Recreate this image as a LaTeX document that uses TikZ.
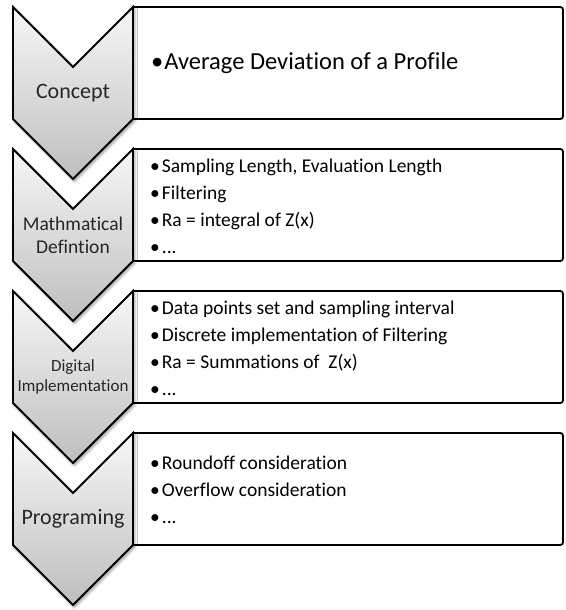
\documentclass[tikz,border=0pt]{standalone}
\usepackage{fontspec}
\setmainfont{Carlito}[Ligatures={NoCommon,NoContextual}]
\usetikzlibrary{shadows.blur}
\definecolor{chevtop}{HTML}{F7F7F7}
\definecolor{chevbot}{HTML}{BEBEBE}
\definecolor{labelgray}{HTML}{262626}
\begin{document}
\begin{tikzpicture}[x=1pt,y=-1pt,
  chevron/.style={draw=black, line width=1.8pt, line join=miter,
    top color=chevtop, bottom color=chevbot,
    blur shadow={shadow xshift=1.5pt, shadow yshift=-2pt,
      shadow blur radius=3pt, shadow opacity=45}},
  panel/.style={draw=black, line width=1.8pt, fill=white},
  steplabel/.style={text=labelgray, align=center, inner sep=0pt},
  itemlist/.style={anchor=west, align=left, inner sep=0pt,
    font=\fontsize{19.5}{27}\selectfont}]
\useasboundingbox (0,0) rectangle (565,610);

% right-hand panels, square on the left, rounded on the right
\foreach \t in {7,149,291,433}{
  \draw[panel] (133,\t) -- (557,\t) .. controls (563,\t) .. (563,\t+6)
    -- (563,\t+106) .. controls (563,\t+112) .. (557,\t+112)
    -- (133,\t+112) -- cycle;
}

% chevrons down the left side
\foreach \t in {7,149,291,433}{
  \draw[chevron] (13,\t) -- (73,\t+60) -- (133,\t) -- (133,\t+112)
    -- (73,\t+172) -- (13,\t+112) -- cycle;
}

% step names
\node[steplabel, font=\fontsize{22}{26}\selectfont] (s1) at (73,93) {Concept};
\node[steplabel, font=\fontsize{19.5}{23}\selectfont] (s2) at (73,235) {Mathmatical\\Defintion};
\node[steplabel, font=\fontsize{17}{20}\selectfont] (s3) at (73,377) {Digital\\Implementation};
\node[steplabel, font=\fontsize{22}{26}\selectfont] (s4) at (73,519) {Programing};

% panel contents
\node[itemlist, font=\fontsize{24.5}{28}\selectfont] (p1) at (151,63)
  {•\hspace{1pt}Average Deviation of a Profile};
\node[itemlist] (p2) at (150,206)
  {•\hspace{2pt}Sampling Length, Evaluation Length\\
   •\hspace{2pt}Filtering\\
   •\hspace{2pt}Ra = integral of Z(x)\\
   •\hspace{2pt}...};
\node[itemlist] (p3) at (150,348)
  {•\hspace{2pt}Data points set and sampling interval\\
   •\hspace{2pt}Discrete implementation of Filtering\\
   •\hspace{2pt}Ra = Summations of \ Z(x)\\
   •\hspace{2pt}...};
\node[itemlist] (p4) at (150,490)
  {•\hspace{2pt}Roundoff consideration\\
   •\hspace{2pt}Overflow consideration\\
   •\hspace{2pt}...};
\end{tikzpicture}
\end{document}
